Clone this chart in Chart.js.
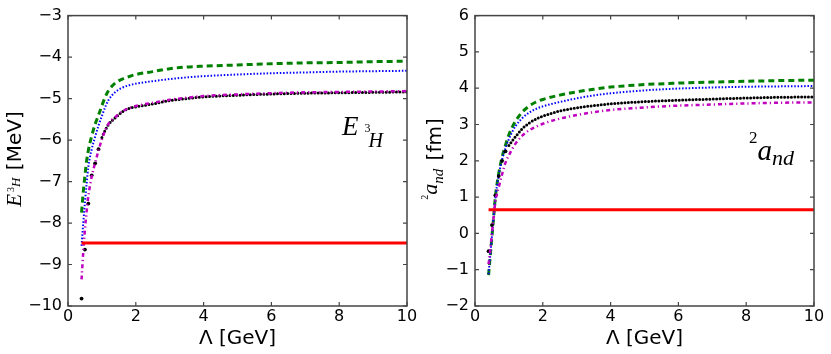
<!DOCTYPE html>
<html>
<head>
<meta charset="utf-8">
<script src="https://cdn.jsdelivr.net/npm/chart.js@4.4.1/dist/chart.umd.min.js"></script>
<style>
  body { margin: 0; background: #fff; }
  #wrap { position: relative; width: 831px; height: 354px; overflow: hidden; background: #fff; }
  canvas { position: absolute; top: 0; }
</style>
</head>
<body>
<div id="wrap">
  <canvas id="left" width="430" height="354" style="left:0"></canvas>
  <canvas id="right" width="416" height="354" style="left:415px"></canvas>
</div>
<script>
/* cutoff values (GeV) */
const lambdaGeV = [0.4, 0.45, 0.5, 0.55, 0.6, 0.7, 0.8, 0.9, 1.0, 1.1, 1.2, 1.4, 1.6, 1.8, 2.0, 2.5, 3, 3.5, 4, 5, 6, 7, 8, 9, 10];
const blackLambdaGeV = [0.4, 0.5, 0.6, 0.7, 0.8, 0.9, 1.0, 1.1, 1.2, 1.4, 1.6, 1.8, 2.0, 2.5, 3, 3.5, 4, 5, 6, 7, 8, 9, 10];
const redLambdaGeV = [0.4, 10];

/* triton binding energy [MeV] */
const tritonGreen = [-7.75, -7.25, -6.85, -6.5, -6.25, -5.9, -5.62, -5.4, -5.17, -4.96, -4.8, -4.62, -4.53, -4.47, -4.42, -4.35, -4.28, -4.24, -4.22, -4.19, -4.16, -4.14, -4.13, -4.11, -4.1];
const tritonBlue = [-8.55, -8.0, -7.5, -7.05, -6.65, -6.22, -5.92, -5.65, -5.42, -5.2, -5.03, -4.84, -4.74, -4.68, -4.64, -4.58, -4.53, -4.49, -4.46, -4.42, -4.39, -4.37, -4.35, -4.34, -4.33];
const tritonBlack = [-9.82, -8.64, -7.53, -6.85, -6.56, -6.22, -5.94, -5.76, -5.62, -5.46, -5.32, -5.24, -5.2, -5.13, -5.05, -5.0, -4.96, -4.92, -4.89, -4.87, -4.86, -4.85, -4.84];
const tritonMagenta = [-9.36, -8.7, -8.15, -7.72, -7.35, -6.88, -6.55, -6.25, -5.98, -5.76, -5.6, -5.44, -5.31, -5.23, -5.18, -5.1, -5.03, -4.98, -4.94, -4.9, -4.87, -4.85, -4.84, -4.83, -4.82];
const tritonExp = -8.48;

/* doublet nd scattering length [fm] */
const andGreen = [-1.15, -0.62, -0.08, 0.45, 1.0, 1.65, 2.1, 2.43, 2.72, 2.93, 3.1, 3.35, 3.51, 3.62, 3.69, 3.81, 3.9, 3.97, 4.03, 4.1, 4.14, 4.17, 4.19, 4.21, 4.22];
const andBlue = [-1.12, -0.6, -0.07, 0.45, 0.98, 1.6, 2.04, 2.35, 2.6, 2.8, 2.96, 3.18, 3.33, 3.43, 3.5, 3.62, 3.72, 3.8, 3.86, 3.94, 3.99, 4.02, 4.04, 4.05, 4.06];
const andBlack = [-0.49, 0.23, 1.05, 1.58, 2.0, 2.26, 2.42, 2.55, 2.67, 2.89, 3.04, 3.15, 3.23, 3.37, 3.46, 3.52, 3.57, 3.63, 3.67, 3.7, 3.73, 3.75, 3.76];
const andMagenta = [-0.85, -0.45, 0.0, 0.45, 0.87, 1.27, 1.63, 1.95, 2.15, 2.33, 2.48, 2.7, 2.84, 2.94, 3.02, 3.16, 3.26, 3.34, 3.4, 3.47, 3.52, 3.55, 3.58, 3.6, 3.61];
const andExp = 0.65;

const serif = "'Liberation Serif', 'DejaVu Serif', serif";
const sans = "'DejaVu Sans', sans-serif";

function pts(xs, ys) {
  return xs.map((x, i) => ({ x: x, y: ys[i] }));
}

function minusFmt(v) {
  return String(v).replace('-', '\u2212');
}

function drawRuns(ctx, spec) {
  if (!spec) return;
  ctx.save();
  ctx.translate(spec.x, spec.y);
  if (spec.rotate) ctx.rotate(-Math.PI / 2);
  ctx.fillStyle = '#000';
  ctx.textBaseline = 'alphabetic';
  ctx.textAlign = 'left';
  let total = 0;
  spec.runs.forEach(r => {
    ctx.font = r.font;
    total += (r.gap || 0) + ctx.measureText(r.text).width;
  });
  let cx = spec.rotate ? -total / 2 : 0;
  spec.runs.forEach(r => {
    ctx.font = r.font;
    cx += r.gap || 0;
    ctx.fillText(r.text, cx, r.dy || 0);
    cx += ctx.measureText(r.text).width;
  });
  ctx.restore();
}

/* frame, inward ticks and the math labels */
const decorPlugin = {
  id: 'decor',
  afterDraw(chart, args, opts) {
    const ctx = chart.ctx;
    const a = chart.chartArea;
    const xs = chart.scales.x;
    const ys = chart.scales.y;
    ctx.save();
    ctx.strokeStyle = '#444';
    ctx.lineWidth = 1.2;
    ctx.beginPath();
    xs.ticks.forEach(t => {
      const px = xs.getPixelForValue(t.value);
      ctx.moveTo(px, a.bottom); ctx.lineTo(px, a.bottom - 4);
      ctx.moveTo(px, a.top); ctx.lineTo(px, a.top + 4);
    });
    ys.ticks.forEach(t => {
      const py = ys.getPixelForValue(t.value);
      ctx.moveTo(a.left, py); ctx.lineTo(a.left + 4, py);
      ctx.moveTo(a.right, py); ctx.lineTo(a.right - 4, py);
    });
    ctx.stroke();
    ctx.lineWidth = 1.5;
    ctx.strokeRect(a.left, a.top, a.right - a.left, a.bottom - a.top);
    ctx.restore();
    drawRuns(ctx, opts.yTitle);
    drawRuns(ctx, opts.note);
  }
};

function buildDatasets(green, blue, black, magenta, expValue) {
  return [
    { data: pts(redLambdaGeV, [expValue, expValue]), borderColor: '#ff0000', borderWidth: 3 },
    { data: pts(lambdaGeV, magenta), borderColor: '#bf00bf', borderWidth: 2.5, borderDash: [4, 3, 1.2, 3] },
    {
      data: pts(blackLambdaGeV, black), borderColor: '#000', borderWidth: 3,
      borderDash: [0, 3.4], borderCapStyle: 'round',
      segment: { borderColor: c => (c.p0.parsed.x < 0.95 ? 'rgba(0,0,0,0)' : '#000') },
      pointRadius: c => (c.parsed && c.parsed.x < 0.95 ? 1.9 : 0),
      pointBackgroundColor: '#000', pointBorderWidth: 0
    },
    { data: pts(lambdaGeV, blue), borderColor: '#0000ff', borderWidth: 2, borderDash: [1.5, 1.8] },
    { data: pts(lambdaGeV, green), borderColor: '#008000', borderWidth: 3, borderDash: [6, 4] }
  ];
}

function buildOptions(yMin, yMax, yAxisWidth, padRight, yTitle, note) {
  return {
    responsive: false,
    animation: false,
    devicePixelRatio: 1,
    layout: { padding: { top: 14, right: padRight, bottom: 0, left: 0 } },
    elements: {
      point: { radius: 0 },
      line: { cubicInterpolationMode: 'monotone', fill: false }
    },
    plugins: {
      legend: { display: false },
      tooltip: { enabled: false },
      decor: { yTitle: yTitle, note: note }
    },
    scales: {
      x: {
        type: 'linear', min: 0, max: 10,
        grid: { display: false, drawTicks: false }, border: { display: false },
        ticks: { stepSize: 2, padding: 1, maxRotation: 0, color: '#000', font: { family: sans, size: 16 } },
        title: { display: true, text: 'Λ [GeV]', color: '#000', font: { family: sans, size: 20 }, padding: { top: 0, bottom: 3 } },
        afterFit: s => { s.height = 48; }
      },
      y: {
        type: 'linear', min: yMin, max: yMax,
        grid: { display: false, drawTicks: false }, border: { display: false },
        ticks: { stepSize: 1, padding: 6, color: '#000', font: { family: sans, size: 16 }, callback: minusFmt },
        afterFit: s => { s.width = yAxisWidth; }
      }
    }
  };
}

Chart.register(decorPlugin);

new Chart(document.getElementById('left'), {
  type: 'line',
  data: { datasets: buildDatasets(tritonGreen, tritonBlue, tritonBlack, tritonMagenta, tritonExp) },
  options: buildOptions(-10, -3, 68, 23,
    { x: 21, y: 159, rotate: true, runs: [
      { text: 'E', font: 'italic 21px ' + serif },
      { text: '3', font: '10px ' + serif, dy: -7, gap: 2 },
      { text: 'H', font: 'italic 13px ' + serif, dy: -1 },
      { text: ' [MeV]', font: '20px ' + sans, gap: 1 }
    ] },
    { x: 342, y: 135, runs: [
      { text: 'E', font: 'italic 27px ' + serif },
      { text: '3', font: '12px ' + serif, dy: -3, gap: 6 },
      { text: 'H', font: 'italic 20px ' + serif, dy: 11.5, gap: -2 }
    ] })
});

new Chart(document.getElementById('right'), {
  type: 'line',
  data: { datasets: buildDatasets(andGreen, andBlue, andBlack, andMagenta, andExp) },
  options: buildOptions(-2, 6, 60, 17,
    { x: 25.7, y: 159, rotate: true, runs: [
      { text: '2', font: '10px ' + serif, dy: -12.7 },
      { text: 'a', font: 'italic 22px ' + serif, dy: -3.7 },
      { text: 'nd', font: 'italic 15px ' + serif, dy: 2.3 },
      { text: ' [fm]', font: '20px ' + sans, gap: 2 }
    ] },
    { x: 334, y: 143, runs: [
      { text: '2', font: '17px ' + serif },
      { text: 'a', font: 'italic 29px ' + serif, dy: 17 },
      { text: 'nd', font: 'italic 22px ' + serif, dy: 22 }
    ] })
});
</script>
</body>
</html>
